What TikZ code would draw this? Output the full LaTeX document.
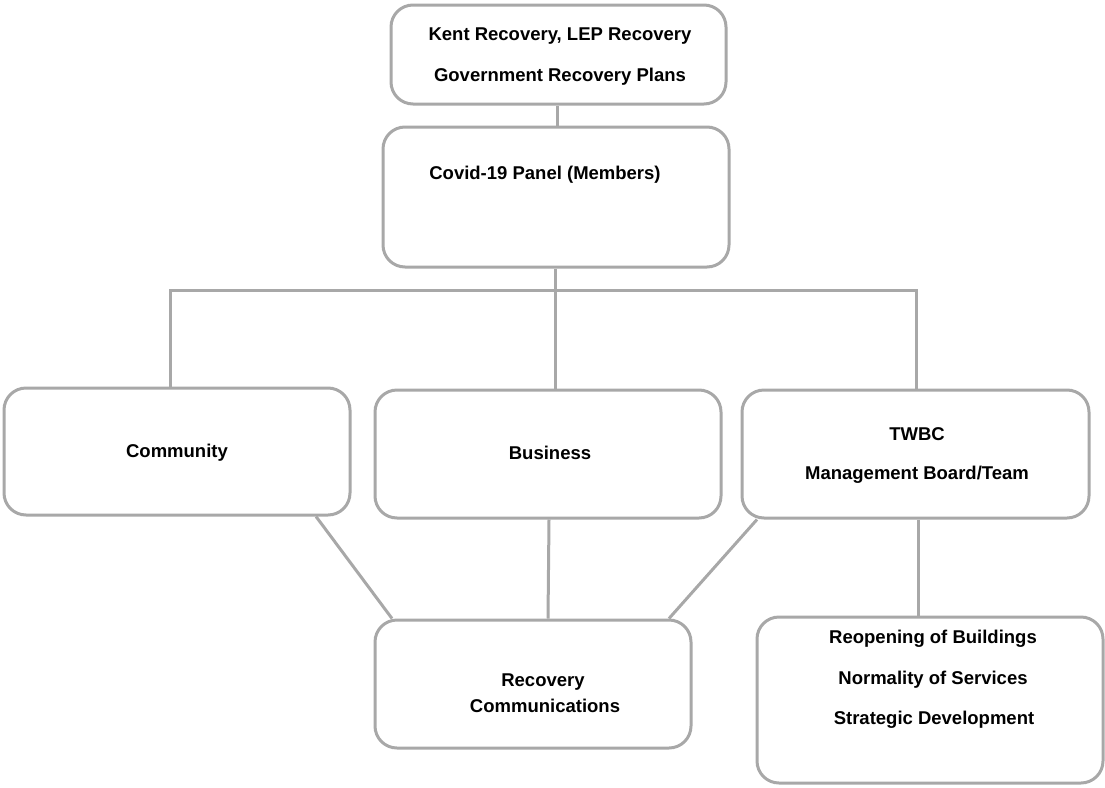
\documentclass[tikz,border=0pt]{standalone}
\usepackage{fontspec}
\setmainfont{Liberation Sans}
\definecolor{linegray}{RGB}{168,168,168}
\tikzset{
  box/.style={draw=linegray, line width=3pt, rounded corners=22pt, fill=white, inner sep=0pt},
  lbl/.style={font=\fontsize{18.5}{22}\selectfont\bfseries, inner sep=0pt, yshift=-2.5pt},
  link/.style={draw=linegray, line width=3pt}
}
\begin{document}
\begin{tikzpicture}[x=1pt, y=-1pt]
    \useasboundingbox (0,0) rectangle (1105,787);

    % boxes
    \node[box, minimum width=335pt, minimum height=99pt] (plans) at (558.5,54.5) {};
    \node[box, minimum width=346pt, minimum height=140pt] (panel) at (556,197) {};
    \node[box, minimum width=346pt, minimum height=127pt] (community) at (177,451.5) {};
    \node[box, minimum width=346pt, minimum height=128pt] (business) at (548,454) {};
    \node[box, minimum width=347pt, minimum height=128pt] (twbc) at (915.5,454) {};
    \node[box, minimum width=316pt, minimum height=128pt] (comms) at (533,684) {};
    \node[box, minimum width=346pt, minimum height=166pt] (services) at (930,700) {};

    % texts
    \node[lbl] (plansa) at (560,34) {Kent Recovery, LEP Recovery};
    \node[lbl] (plansb) at (560,74) {Government Recovery Plans};
    \node[lbl] (panela) at (545,172) {Covid-19 Panel (Members)};
    \node[lbl] (communitya) at (177,450) {Community};
    \node[lbl] (businessa) at (550,450) {Business};
    \node[lbl] (twbca) at (917,432) {TWBC};
    \node[lbl] (twbcb) at (917,472) {Management Board/Team};
    \node[lbl] (commsa) at (543,680) {Recovery};
    \node[lbl] (commsb) at (545,703) {Communications};
    \node[lbl] (servicesa) at (933,636) {Reopening of Buildings};
    \node[lbl] (servicesb) at (933,677) {Normality of Services};
    \node[lbl] (servicesc) at (934,717) {Strategic Development};

    % connectors
    \coordinate (busl) at (170,290);
    \coordinate (busr) at (916,290);
    \draw[link] ([xshift=-1.5pt]plans.south) -- ([xshift=1pt]panel.north);
    \draw[link] ([xshift=-1pt]panel.south) -- ([xshift=7pt]business.north);
    \draw[link] ([xshift=-7pt]community.north) -- (busl) -- (busr) -- ([xshift=0.5pt]twbc.north);
    \draw[link] ([xshift=139pt]community.south) -- ([xshift=-141pt]comms.north);
    \draw[link] ([xshift=1pt]business.south) -- ([xshift=15pt]comms.north);
    \draw[link] ([xshift=-158.5pt]twbc.south) -- ([xshift=136pt]comms.north);
    \draw[link] ([xshift=2.5pt]twbc.south) -- ([xshift=-12pt]services.north);
  \end{tikzpicture}
\end{document}
